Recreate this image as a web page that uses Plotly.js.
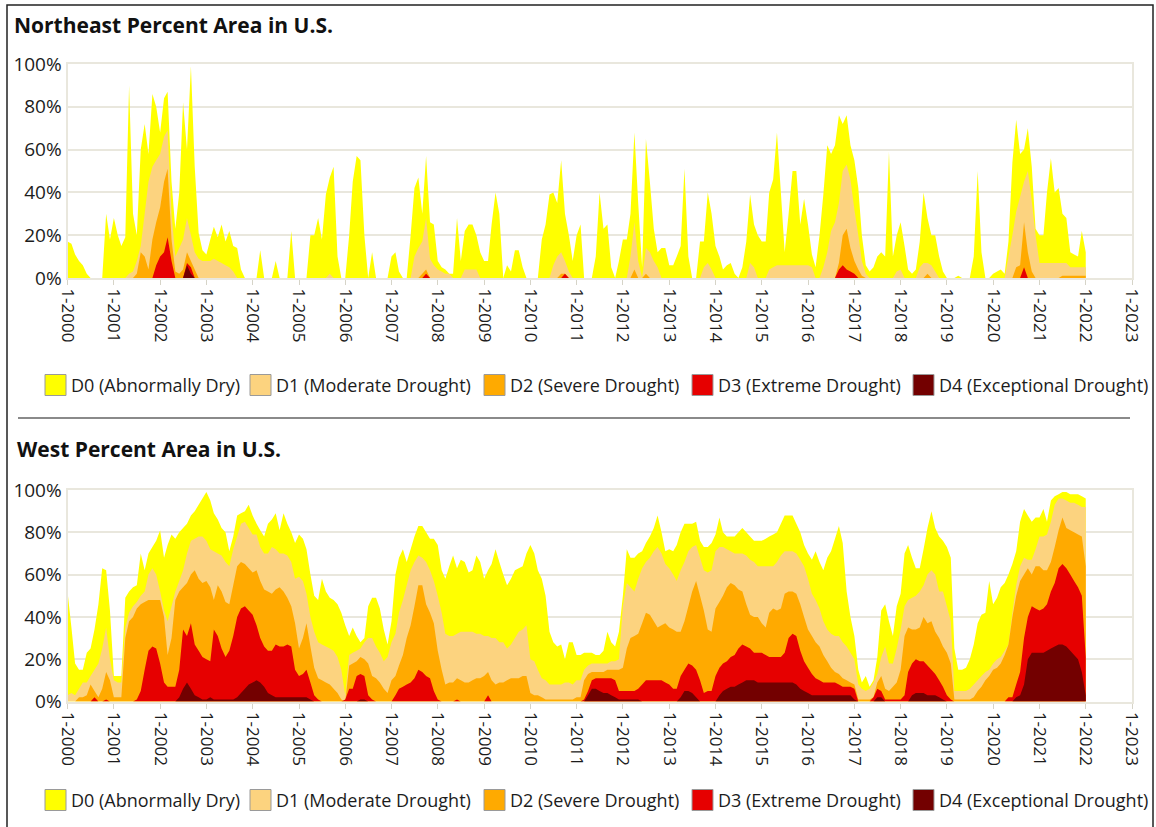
<!DOCTYPE html>
<html>
<head>
<meta charset="utf-8">
<script src="https://cdn.plot.ly/plotly-3.0.1.min.js"></script>
<style>
html,body{margin:0;padding:0;background:#fff;}
#chart{width:1156px;height:827px;}
</style>
</head>
<body>
<div id="chart"></div>
<script>
// ---------------- DATA (monthly, Jan 2000 .. Jan 2022, cumulative % area) ----------------
const START_YEAR = 2000;
const N_MONTHS = 265;

const CATEGORIES = ['D0 (Abnormally Dry)', 'D1 (Moderate Drought)', 'D2 (Severe Drought)', 'D3 (Extreme Drought)', 'D4 (Exceptional Drought)'];
const COLORS = ['#FFFF00', '#FCD37F', '#FFAA00', '#E60000', '#730000'];
const PANEL_TITLES = ['Northeast Percent Area in U.S.', 'West Percent Area in U.S.'];
const Y_TICKS = [0, 20, 40, 60, 80, 100];

const NE_D0 = [
 17,16,11,8,6,2,0,0,0,0,30,18,
 28,20,15,19,90,30,20,60,72,58,86,80,
 68,84,87,45,23,40,82,60,99,52,21,13,
 11,18,24,19,25,17,22,15,14,4,0,0,
 0,0,13,0,0,0,8,0,0,0,22,0,
 0,0,0,20,20,28,18,39,47,52,10,0,
 0,20,45,57,55,20,0,12,0,0,0,0,
 10,12,3,0,0,20,42,47,30,57,26,25,
 8,5,4,2,2,28,8,22,25,25,20,12,
 8,8,25,40,30,0,6,3,13,13,5,0,
 0,0,0,18,25,39,40,35,55,30,20,8,
 20,25,0,0,0,10,40,23,25,5,0,8,
 18,18,30,68,35,5,65,45,23,12,14,14,
 6,6,10,15,51,10,0,0,17,17,40,30,
 15,10,4,6,7,2,0,5,17,39,25,20,
 17,17,40,46,68,40,12,30,50,50,25,37,
 25,11,5,20,39,62,58,62,76,72,76,62,
 55,42,20,6,3,5,10,12,10,59,10,20,
 26,15,4,2,4,17,40,28,20,20,10,3,
 0,0,0,1,0,0,0,10,50,12,0,0,
 2,3,4,2,17,54,74,58,60,70,52,23,
 20,20,40,56,40,42,30,28,12,11,10,22,
 12];
const NE_D1 = [
 0,0,0,0,0,0,0,0,0,0,0,0,
 0,0,0,0,2,3,8,15,30,45,52,55,
 58,66,69,30,10,14,18,28,20,12,9,8,
 8,8,9,8,7,6,5,3,0,0,0,0,
 0,0,0,0,0,0,0,0,0,0,0,0,
 0,0,0,0,0,0,0,0,2,0,0,0,
 0,0,0,0,0,0,0,0,0,0,0,0,
 0,0,0,0,0,0,10,14,17,28,9,6,
 4,3,2,2,0,0,0,4,4,4,4,0,
 0,0,0,0,0,0,0,0,0,0,0,0,
 0,0,0,0,0,0,6,10,12,8,3,0,
 0,0,0,0,0,0,0,0,0,0,0,0,
 0,0,10,26,8,0,14,12,8,5,0,0,
 0,0,0,0,0,0,0,0,0,5,7,4,
 0,0,0,0,0,0,0,0,0,7,5,0,
 0,0,4,5,6,6,6,6,6,6,6,6,
 6,5,0,0,5,12,22,26,35,50,53,46,
 32,20,8,2,0,0,0,0,0,0,0,3,
 4,0,0,0,0,5,7,7,6,3,0,0,
 0,0,0,0,0,0,0,0,0,0,0,0,
 0,0,0,0,10,20,31,38,45,50,36,20,
 7,7,7,7,7,7,7,7,5,5,5,5,
 5];
const NE_D2 = [
 0,0,0,0,0,0,0,0,0,0,0,0,
 0,0,0,0,0,0,2,12,10,4,18,26,
 33,45,51,18,3,2,4,12,8,4,0,0,
 0,0,0,0,0,0,0,0,0,0,0,0,
 0,0,0,0,0,0,0,0,0,0,0,0,
 0,0,0,0,0,0,0,0,0,0,0,0,
 0,0,0,0,0,0,0,0,0,0,0,0,
 0,0,0,0,0,0,0,0,2,4,0,0,
 0,0,0,0,0,0,0,0,0,0,0,0,
 0,0,0,0,0,0,0,0,0,0,0,0,
 0,0,0,0,0,0,0,0,2,2,0,0,
 0,0,0,0,0,0,0,0,0,0,0,0,
 0,0,0,4,0,0,2,0,0,0,0,0,
 0,0,0,0,0,0,0,0,0,0,0,0,
 0,0,0,0,0,0,0,0,0,0,0,0,
 0,0,0,0,0,0,0,0,0,0,0,0,
 0,0,0,0,0,0,0,0,7,20,23,14,
 8,4,1,0,0,0,0,0,0,0,0,0,
 0,0,0,0,0,0,0,2,0,0,0,0,
 0,0,0,0,0,0,0,0,0,0,0,0,
 0,0,0,0,0,0,5,6,26,12,3,0,
 0,0,0,0,0,0,1,1,1,1,1,1,
 1];
const NE_D3 = [
 0,0,0,0,0,0,0,0,0,0,0,0,
 0,0,0,0,0,0,0,0,0,0,0,6,
 10,12,19,8,0,0,0,7,5,0,0,0,
 0,0,0,0,0,0,0,0,0,0,0,0,
 0,0,0,0,0,0,0,0,0,0,0,0,
 0,0,0,0,0,0,0,0,0,0,0,0,
 0,0,0,0,0,0,0,0,0,0,0,0,
 0,0,0,0,0,0,0,0,0,2,0,0,
 0,0,0,0,0,0,0,0,0,0,0,0,
 0,0,0,0,0,0,0,0,0,0,0,0,
 0,0,0,0,0,0,0,0,0,2,0,0,
 0,0,0,0,0,0,0,0,0,0,0,0,
 0,0,0,0,0,0,0,0,0,0,0,0,
 0,0,0,0,0,0,0,0,0,0,0,0,
 0,0,0,0,0,0,0,0,0,0,0,0,
 0,0,0,0,0,0,0,0,0,0,0,0,
 0,0,0,0,0,0,0,0,4,6,4,3,
 2,0,0,0,0,0,0,0,0,0,0,0,
 0,0,0,0,0,0,0,0,0,0,0,0,
 0,0,0,0,0,0,0,0,0,0,0,0,
 0,0,0,0,0,0,0,0,5,0,0,0,
 0,0,0,0,0,0,0,0,0,0,0,0,
 0];
const NE_D4 = [
 0,0,0,0,0,0,0,0,0,0,0,0,
 0,0,0,0,0,0,0,0,0,0,0,0,
 0,0,0,0,0,0,0,6,2,0,0,0,
 0,0,0,0,0,0,0,0,0,0,0,0,
 0,0,0,0,0,0,0,0,0,0,0,0,
 0,0,0,0,0,0,0,0,0,0,0,0,
 0,0,0,0,0,0,0,0,0,0,0,0,
 0,0,0,0,0,0,0,0,0,0,0,0,
 0,0,0,0,0,0,0,0,0,0,0,0,
 0,0,0,0,0,0,0,0,0,0,0,0,
 0,0,0,0,0,0,0,0,0,0,0,0,
 0,0,0,0,0,0,0,0,0,0,0,0,
 0,0,0,0,0,0,0,0,0,0,0,0,
 0,0,0,0,0,0,0,0,0,0,0,0,
 0,0,0,0,0,0,0,0,0,0,0,0,
 0,0,0,0,0,0,0,0,0,0,0,0,
 0,0,0,0,0,0,0,0,0,0,0,0,
 0,0,0,0,0,0,0,0,0,0,0,0,
 0,0,0,0,0,0,0,0,0,0,0,0,
 0,0,0,0,0,0,0,0,0,0,0,0,
 0,0,0,0,0,0,0,0,0,0,0,0,
 0,0,0,0,0,0,0,0,0,0,0,0,
 0];

const WEST_D0 = [
 52,35,18,15,15,23,25,34,46,63,62,43,
 12,12,12,49,52,54,55,70,62,70,73,76,
 81,68,74,79,77,80,82,84,88,90,93,96,
 99,95,89,86,82,80,71,78,88,89,90,93,
 88,84,81,78,84,86,89,81,89,84,80,75,
 79,77,72,60,50,48,58,52,49,48,46,42,
 36,31,35,31,28,30,45,49,49,44,34,27,
 38,60,68,72,66,72,78,83,83,80,77,77,
 74,62,58,64,69,63,67,66,61,62,69,66,
 58,62,65,72,66,60,55,58,62,63,64,70,
 74,70,62,58,50,33,28,26,27,20,28,28,
 22,22,23,23,23,22,22,24,33,28,26,33,
 50,72,68,68,70,71,75,78,82,88,80,71,
 72,71,74,80,84,84,84,85,76,73,73,75,
 79,87,80,78,78,78,80,82,80,78,76,76,
 76,77,78,79,80,84,88,88,88,84,80,74,
 70,67,71,66,62,68,71,77,83,75,52,40,
 31,15,9,12,7,10,21,43,46,38,31,45,
 51,70,74,68,63,63,72,82,90,82,78,76,
 73,68,25,15,15,16,20,27,37,41,42,57,
 46,49,54,56,60,65,71,85,91,88,85,87,
 87,91,85,95,97,98,99,99,98,98,98,97,
 96];
const WEST_D1 = [
 3,4,3,6,9,9,12,15,18,25,35,20,
 10,9,9,35,42,45,47,50,52,60,63,60,
 52,43,38,45,52,57,62,70,76,77,78,78,
 76,72,71,70,69,66,64,72,78,84,85,82,
 79,79,73,70,70,73,72,70,70,69,66,58,
 59,57,51,40,33,28,27,26,25,24,21,15,
 3,22,23,24,25,28,30,30,26,23,19,21,
 28,32,42,48,55,62,66,69,68,66,62,57,
 50,42,32,31,31,32,33,33,33,33,32,32,
 31,31,30,30,28,28,25,27,30,33,34,36,
 20,19,15,11,10,8,8,8,8,9,9,8,
 10,10,15,17,18,18,18,18,18,19,19,20,
 45,56,54,52,58,63,66,68,71,73,70,65,
 63,60,57,62,66,71,73,74,68,62,61,62,
 71,73,73,72,71,70,70,70,69,67,66,64,
 64,64,64,64,66,69,71,71,71,70,67,64,
 58,51,48,44,38,34,32,31,31,28,26,23,
 20,8,6,5,6,9,13,21,26,18,18,25,
 34,45,48,49,50,52,55,60,62,60,52,52,
 45,38,5,5,5,5,6,8,10,12,14,15,
 18,20,21,24,27,42,55,64,68,67,67,72,
 78,78,79,85,93,96,96,95,94,94,93,92,
 92];
const WEST_D2 = [
 0,0,0,2,2,3,8,5,2,6,14,10,
 2,2,2,30,38,40,44,46,47,48,48,48,
 48,40,22,30,48,52,54,56,60,62,58,56,
 57,54,48,55,52,47,46,55,64,66,65,63,
 61,62,57,53,52,51,53,54,52,49,45,37,
 25,30,37,26,16,11,10,9,8,6,4,1,
 0,17,18,19,21,20,18,12,11,9,6,4,
 10,12,17,22,30,36,45,55,55,46,42,37,
 24,15,8,9,9,11,10,9,9,10,11,11,
 12,14,10,8,9,9,10,11,11,11,12,12,
 4,3,3,2,1,1,1,1,1,1,1,1,
 2,2,10,13,14,14,14,14,15,15,15,15,
 16,25,30,31,32,37,42,41,38,35,36,37,
 35,34,33,33,38,45,52,57,50,43,34,33,
 44,47,50,54,56,55,53,52,46,41,40,40,
 37,35,42,44,43,44,51,52,52,51,46,40,
 34,31,28,26,22,19,16,14,13,11,10,9,
 8,1,1,1,1,2,9,12,6,5,7,9,
 15,31,35,34,34,35,40,37,38,33,30,26,
 23,18,1,1,1,1,1,2,5,7,10,12,
 15,16,18,22,27,40,50,57,60,63,60,64,
 64,62,62,66,73,81,87,82,81,80,79,78,
 64];
const WEST_D3 = [
 0,0,0,0,0,0,0,2,0,0,1,0,
 0,0,0,0,0,0,1,5,15,24,26,25,
 18,9,7,7,7,15,34,31,37,27,24,21,
 20,19,34,31,25,21,24,31,40,44,45,43,
 41,36,30,26,24,24,27,26,26,27,26,15,
 12,13,15,9,3,1,0,0,0,0,0,0,
 1,6,6,12,13,12,3,1,0,0,0,0,
 0,3,6,7,8,9,11,15,14,12,11,5,
 1,0,0,0,0,1,0,0,0,0,0,0,
 0,3,0,0,0,0,0,0,0,0,0,0,
 0,0,0,0,0,0,0,0,0,0,0,0,
 0,0,1,5,10,11,11,11,11,11,10,5,
 5,5,5,5,6,8,10,10,10,10,10,9,
 8,6,6,12,15,18,17,15,10,4,5,5,
 12,16,18,19,21,22,25,27,26,25,23,23,
 23,22,21,21,21,21,23,30,32,31,24,19,
 16,13,11,10,9,9,9,9,8,7,7,7,
 6,0,0,0,0,2,6,5,1,1,1,1,
 1,3,14,18,20,19,19,17,15,13,10,7,
 3,1,0,0,0,0,0,0,0,0,0,0,
 0,0,0,0,2,2,8,14,30,40,45,44,
 43,44,46,52,56,63,65,63,60,57,54,50,
 21];
const WEST_D4 = [
 0,0,0,0,0,0,0,0,0,0,0,0,
 0,0,0,0,0,0,0,0,0,0,0,0,
 0,0,0,0,0,2,6,9,6,3,2,1,
 1,2,1,1,1,1,1,1,2,4,6,8,
 9,10,9,7,4,3,2,2,2,2,2,2,
 2,2,2,1,0,0,0,0,0,0,0,0,
 0,0,0,0,1,1,0,0,0,0,0,0,
 0,0,0,0,0,0,0,0,0,0,0,0,
 0,0,0,0,0,0,0,0,0,0,0,0,
 0,0,0,0,0,0,0,0,0,0,0,0,
 0,0,0,0,0,0,0,0,0,0,0,0,
 0,0,0,3,6,6,5,4,4,3,2,1,
 1,1,1,1,1,0,0,0,0,0,0,0,
 0,0,0,2,5,5,4,2,0,0,0,0,
 0,3,5,6,7,7,8,9,10,10,10,9,
 9,9,9,9,9,9,9,9,9,8,6,5,
 4,3,3,3,3,3,3,3,3,3,3,3,
 1,0,0,0,0,0,2,2,0,0,0,0,
 0,0,0,3,4,4,4,3,3,3,2,1,
 0,0,0,0,0,0,0,0,0,0,0,0,
 0,0,0,0,0,0,2,3,8,20,23,23,
 23,23,24,25,26,27,27,26,24,22,20,14,
 3];

// ---------------- BUILD ----------------
const months = [];
for (let i = 0; i < N_MONTHS; i++) {
  const y = START_YEAR + Math.floor(i / 12);
  const m = (i % 12) + 1;
  months.push(y + '-' + String(m).padStart(2, '0') + '-01');
}

const W = 1156, H = 827;
const px = v => v / W;
const py = v => 1 - v / H;
const FONT = '"Open Sans", "Noto Sans", sans-serif';
const TEXT = '#1c1c1c';
const GRID = '#e9e7dd';

const panels = [
  {series: [NE_D0, NE_D1, NE_D2, NE_D3, NE_D4], xa: 'x', ya: 'y'},
  {series: [WEST_D0, WEST_D1, WEST_D2, WEST_D3, WEST_D4], xa: 'x2', ya: 'y2'}
];

const traces = [];
panels.forEach(p => {
  p.series.forEach((vals, k) => {
    traces.push({
      type: 'scatter', mode: 'none', x: months, y: vals,
      fill: 'tozeroy', fillcolor: COLORS[k], name: CATEGORIES[k],
      xaxis: p.xa, yaxis: p.ya, hoverinfo: 'skip', showlegend: false
    });
  });
});

function xAxis(anchor) {
  return {
    type: 'date', anchor: anchor, domain: [px(67.5), px(1132)],
    range: ['2000-01-01', '2023-01-01'], tickmode: 'linear',
    tick0: '2000-01-01', dtick: 'M12', tickformat: '%-m-%Y', tickangle: 90,
    ticks: 'outside', ticklen: 5, tickwidth: 1, tickcolor: '#d6d4c8',
    showgrid: false, zeroline: false, showline: true, linecolor: GRID,
    linewidth: 2, mirror: true,
    tickfont: {family: FONT, size: 17, color: TEXT}
  };
}
function yAxis(anchor, top, bottom) {
  return {
    anchor: anchor, domain: [py(bottom), py(top)], range: [0, 100],
    tickmode: 'array', tickvals: Y_TICKS, ticktext: Y_TICKS.map(v => v + '%'),
    showgrid: true, gridcolor: GRID, gridwidth: 2, zeroline: false,
    showline: true, linecolor: GRID, linewidth: 2, mirror: true, ticks: '',
    tickfont: {family: FONT, size: 19, color: TEXT}
  };
}

const shapes = [];
const annotations = [];

// outer frame
shapes.push({type: 'rect', xref: 'paper', yref: 'paper', x0: px(7), x1: px(1153), y0: py(5), y1: py(830),
  line: {color: '#222', width: 1.5}, fillcolor: 'rgba(0,0,0,0)', layer: 'above'});
// separator
shapes.push({type: 'line', xref: 'paper', yref: 'paper', x0: px(18), x1: px(1130), y0: py(418), y1: py(418),
  line: {color: '#8a8a8a', width: 2}});

// panel titles
[[12, 25], [15, 449]].forEach((pos, i) => {
  annotations.push({xref: 'paper', yref: 'paper', x: px(pos[0]), y: py(pos[1]), xanchor: 'left', yanchor: 'middle',
    showarrow: false, text: '<b>' + PANEL_TITLES[i] + '</b>', font: {family: FONT, size: 21, color: '#111'}});
});

// legends
const LEG_BOX_X = [45, 250, 484, 692, 913];
[385, 800].forEach(cy => {
  CATEGORIES.forEach((name, k) => {
    const x0 = LEG_BOX_X[k];
    shapes.push({type: 'rect', xref: 'paper', yref: 'paper', x0: px(x0), x1: px(x0 + 21), y0: py(cy - 10.5), y1: py(cy + 10.5),
      fillcolor: COLORS[k], line: {color: '#9a9a9a', width: 1}});
    annotations.push({xref: 'paper', yref: 'paper', x: px(x0 + 24), y: py(cy), xanchor: 'left', yanchor: 'middle',
      showarrow: false, text: name, font: {family: FONT, size: 18, color: TEXT}});
  });
});

const layout = {
  width: W, height: H, margin: {l: 0, r: 0, t: 0, b: 0, pad: 0},
  paper_bgcolor: '#ffffff', plot_bgcolor: '#ffffff', showlegend: false,
  xaxis: xAxis('y'), yaxis: yAxis('x', 64, 278),
  xaxis2: xAxis('y2'), yaxis2: yAxis('x2', 490, 701.5),
  shapes: shapes, annotations: annotations, font: {family: FONT}
};

Plotly.newPlot('chart', traces, layout, {displayModeBar: false, staticPlot: true});
</script>
</body>
</html>
